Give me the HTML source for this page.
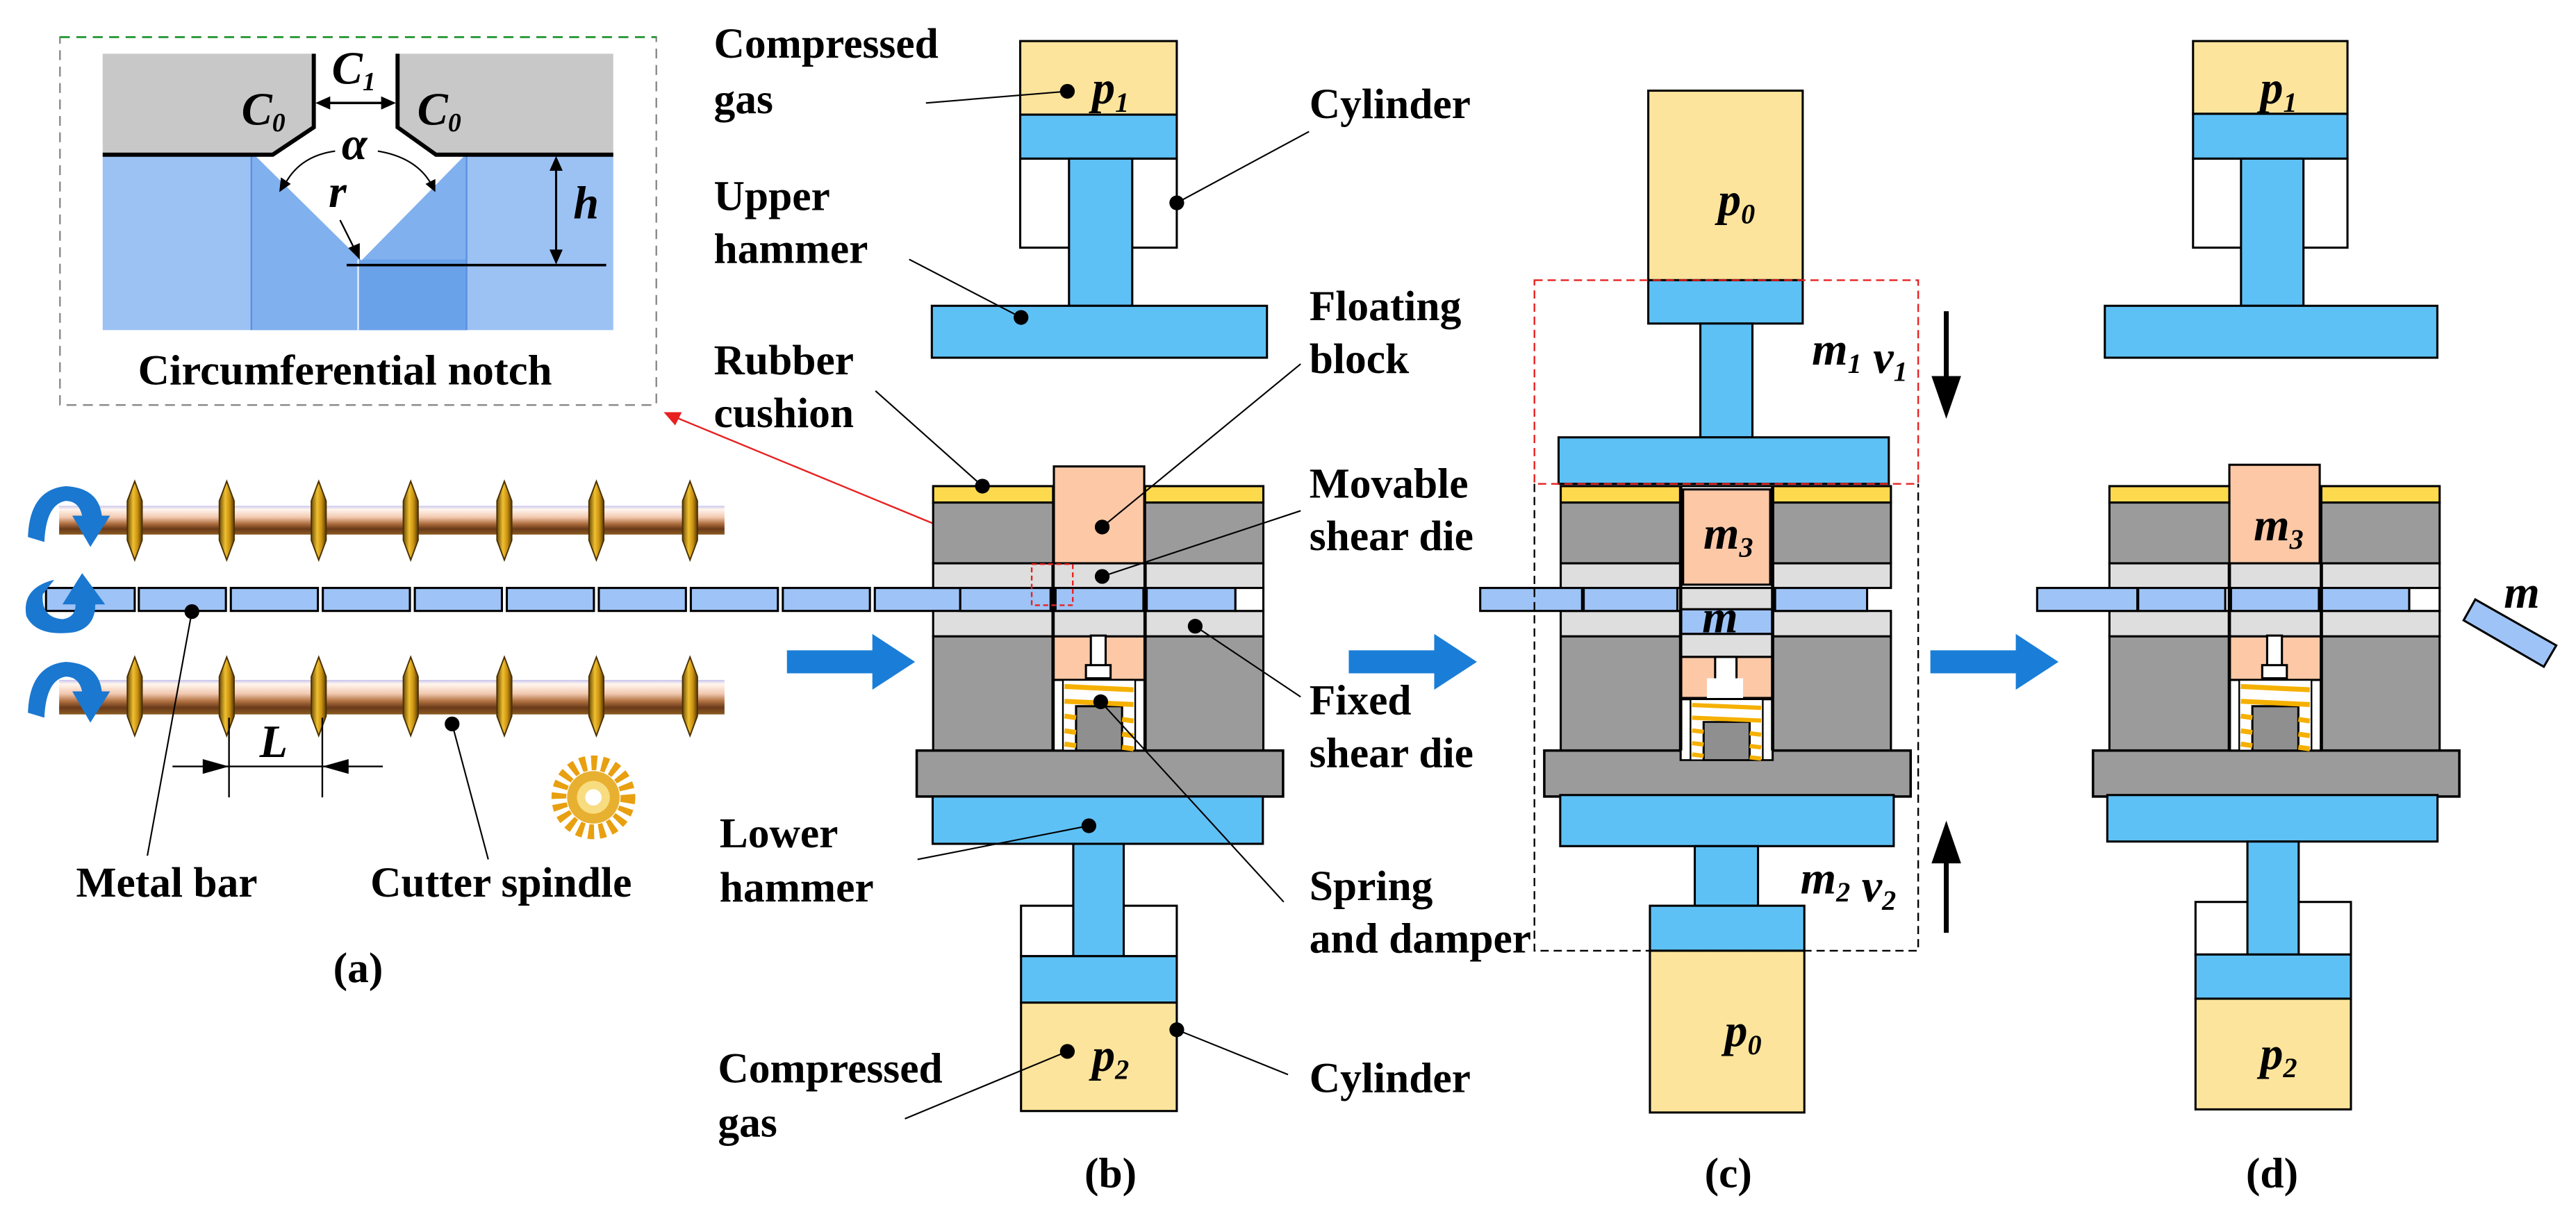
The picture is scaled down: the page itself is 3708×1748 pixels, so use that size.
<!DOCTYPE html>
<html><head><meta charset="utf-8"><style>
html,body{margin:0;padding:0;background:#fff;}
svg{display:block;}
text{font-family:"Liberation Serif",serif;font-weight:bold;fill:#000;}
.l{font-size:26px;}
.i{font-style:italic;font-size:28px;}
.s{stroke:#000;stroke-width:1.3;}
</style></head><body>
<svg width="3708" height="1748" viewBox="0 0 1568 739.2" preserveAspectRatio="none" xmlns="http://www.w3.org/2000/svg">
<defs>
<linearGradient id="sp" x1="0" y1="0" x2="0" y2="1">
<stop offset="0" stop-color="#c8c4ee"/><stop offset="0.12" stop-color="#fff6ee"/><stop offset="0.4" stop-color="#f2c8b0"/><stop offset="0.62" stop-color="#b07040"/><stop offset="0.8" stop-color="#6a3a1a"/><stop offset="1" stop-color="#8a5a20"/>
</linearGradient>
<linearGradient id="gd" x1="0" y1="0" x2="1" y2="0">
<stop offset="0" stop-color="#6a4a08"/><stop offset="0.4" stop-color="#f0c030"/><stop offset="0.7" stop-color="#c89010"/><stop offset="1" stop-color="#5a3a08"/>
</linearGradient>
<g id="disc"><path d="M0,-24 L4.5,-12 L4.5,12 L0,24 L-4.5,12 L-4.5,-12 Z" fill="url(#gd)" stroke="#4a3000" stroke-width="0.8"/></g>
<g id="die">
<rect x="0" y="0" width="73" height="10" fill="#fdd94e" class="s"/>
<rect x="129" y="0" width="72" height="10" fill="#fdd94e" class="s"/>
<rect x="0" y="10" width="73" height="37" fill="#9b9b9b" class="s"/>
<rect x="129" y="10" width="72" height="37" fill="#9b9b9b" class="s"/>
<rect x="0" y="47" width="73" height="15" fill="#dedede" class="s"/>
<rect x="129" y="47" width="72" height="15" fill="#dedede" class="s"/>
<rect x="0" y="76" width="73" height="15.5" fill="#dedede" class="s"/>
<rect x="129" y="76" width="72" height="15.5" fill="#dedede" class="s"/>
<rect x="0" y="91.5" width="73" height="69.5" fill="#9b9b9b" class="s"/>
<rect x="129" y="91.5" width="72" height="69.5" fill="#9b9b9b" class="s"/>
<rect x="-10" y="161" width="223" height="28" fill="#9b9b9b" stroke="#000" stroke-width="1.5"/>
</g>
<g id="spring">
<rect x="73" y="118" width="56" height="43" fill="#fff" class="s"/>
<rect x="79" y="118" width="44" height="43" fill="#fff" stroke="#000" stroke-width="1"/>
<rect x="87" y="134" width="28" height="27" fill="#8f8f8f" class="s"/>
<g stroke="#f5b000" stroke-width="3">
<line x1="80" y1="122" x2="122" y2="124"/><line x1="80" y1="131" x2="122" y2="133"/>
<line x1="80" y1="140" x2="87" y2="141"/><line x1="115" y1="142" x2="122" y2="143"/>
<line x1="80" y1="149" x2="87" y2="150"/><line x1="115" y1="151" x2="122" y2="152"/>
<line x1="80" y1="157" x2="87" y2="158"/><line x1="115" y1="159" x2="122" y2="160"/>
</g>
</g>
<g id="bluearrow"><path d="M0,6 H52 V-4 L78,13 L52,30 V20 H0 Z" fill="#1a7ed8"/></g>
</defs>

<!-- ===== Panel (a) inset ===== -->
<rect x="36.5" y="22.6" width="363" height="224" fill="none" stroke="#888" stroke-width="1" stroke-dasharray="6,4"/>
<line x1="36.5" y1="22.6" x2="399.5" y2="22.6" stroke="#2a9a3a" stroke-width="1.2" stroke-dasharray="6,4"/>
<rect x="62.5" y="94" width="310.8" height="107" fill="#9cc2f4"/>
<rect x="153" y="94" width="131" height="107" fill="#80b0ee"/>
<rect x="218" y="158" width="66" height="43" fill="#6aa2ea"/>
<line x1="153" y1="94" x2="153" y2="201" stroke="#5a90e0" stroke-width="1"/>
<line x1="284" y1="94" x2="284" y2="201" stroke="#5a90e0" stroke-width="1"/>
<line x1="218" y1="158" x2="218" y2="201" stroke="#e8f0ff" stroke-width="1"/>
<path d="M62.5,32.7 H191 V77.5 L166,94.2 H62.5 Z" fill="#c8c8c8"/>
<path d="M373.3,32.7 H242 V77.5 L265.4,94.2 H373.3 Z" fill="#c8c8c8"/>
<path d="M154,93.5 L220,158.6 L284,93.5 Z" fill="#fff"/>
<path d="M62.5,94.2 H166 L191,77.5 V32.7" fill="none" stroke="#000" stroke-width="2.5"/>
<path d="M373.3,94.2 H265.4 L242,77.5 V32.7" fill="none" stroke="#000" stroke-width="2.5"/>
<line x1="211" y1="161.4" x2="369" y2="161.4" stroke="#000" stroke-width="1.5"/>
<line x1="338.5" y1="100" x2="338.5" y2="156" stroke="#000" stroke-width="1.3"/>
<path d="M338.5,95 l-4,9 h8 z M338.5,161 l-4,-9 h8 z" fill="#000"/>
<line x1="197" y1="62.7" x2="236" y2="62.7" stroke="#000" stroke-width="1.5"/>
<path d="M192,62.7 l9,-4 v8 z M241,62.7 l-9,-4 v8 z" fill="#000"/>
<path d="M204,92 Q182,95 173,113" fill="none" stroke="#000" stroke-width="0.9"/>
<path d="M170,117 l1,-9 l6,4 z" fill="#000"/>
<path d="M230,92 Q254,96 263,113" fill="none" stroke="#000" stroke-width="0.9"/>
<path d="M265,117 l-6,-5 l6,-3 z" fill="#000"/>
<line x1="207" y1="134" x2="216" y2="152" stroke="#000" stroke-width="1"/>
<path d="M219,158 l-7,-7 l7,-3 z" fill="#000"/>
<text class="i" x="147" y="76" font-size="24">C<tspan font-size="16" dy="4">0</tspan></text>
<text class="i" x="254" y="76" font-size="24">C<tspan font-size="16" dy="4">0</tspan></text>
<text class="i" x="202" y="51" font-size="24">C<tspan font-size="16" dy="4">1</tspan></text>
<text class="i" x="208" y="97" font-size="24">α</text>
<text class="i" x="200" y="126" font-size="24">r</text>
<text class="i" x="349" y="133" font-size="24">h</text>
<text class="l" x="210" y="234" text-anchor="middle" textLength="252" lengthAdjust="spacingAndGlyphs">Circumferential notch</text>

<line x1="628" y1="343.5" x2="411" y2="254" stroke="#e82020" stroke-width="1"/>
<path d="M404,251 l11,0 l-4,8 z" fill="#e82020"/>

<rect x="36" y="308" width="405" height="17.5" fill="url(#sp)"/>
<rect x="36" y="414" width="405" height="21" fill="url(#sp)"/>
<g>
<use href="#disc" x="82" y="317"/><use href="#disc" x="138" y="317"/><use href="#disc" x="194" y="317"/><use href="#disc" x="250" y="317"/><use href="#disc" x="307" y="317"/><use href="#disc" x="363" y="317"/><use href="#disc" x="420" y="317"/>
<use href="#disc" x="82" y="424"/><use href="#disc" x="138" y="424"/><use href="#disc" x="194" y="424"/><use href="#disc" x="250" y="424"/><use href="#disc" x="307" y="424"/><use href="#disc" x="363" y="424"/><use href="#disc" x="420" y="424"/>
</g>
<g>
<rect x="28" y="358" width="54" height="14" fill="#9ec3f7" class="s"/>
<rect x="84.5" y="358" width="53" height="14" fill="#9ec3f7" class="s"/>
<rect x="140.5" y="358" width="53" height="14" fill="#9ec3f7" class="s"/>
<rect x="196.5" y="358" width="53" height="14" fill="#9ec3f7" class="s"/>
<rect x="252.5" y="358" width="53" height="14" fill="#9ec3f7" class="s"/>
<rect x="308.5" y="358" width="53" height="14" fill="#9ec3f7" class="s"/>
<rect x="364.5" y="358" width="53" height="14" fill="#9ec3f7" class="s"/>
<rect x="420.5" y="358" width="53" height="14" fill="#9ec3f7" class="s"/>
<rect x="476.5" y="358" width="53" height="14" fill="#9ec3f7" class="s"/>
<rect x="532.5" y="358" width="52" height="14" fill="#9ec3f7" class="s"/>
</g>
<g fill="#1a78d0">
<path d="M17,327 Q18,298 40,296 Q60,297 62,314 L67,314 L55,333 L44,314 L50,314 Q48,305 40,305 Q28,307 27,330 Z"/>
<path d="M33,353 Q13,358 16,375 Q22,388 45,385 Q58,382 58,368 L64,368 L50,349 L38,368 L46,368 Q46,376 38,377 Q25,376 26,362 Z"/>
<path d="M17,434 Q18,405 40,403 Q60,404 62,421 L67,421 L55,440 L44,421 L50,421 Q48,412 40,412 Q28,414 27,437 Z"/>
</g>
<line x1="139.4" y1="437" x2="139.4" y2="485.5" stroke="#000" stroke-width="1"/>
<line x1="196.2" y1="437" x2="196.2" y2="485.5" stroke="#000" stroke-width="1"/>
<line x1="105" y1="466.7" x2="233" y2="466.7" stroke="#000" stroke-width="1"/>
<path d="M139.4,466.7 l-16,-4.5 v9 z M196.2,466.7 l16,-4.5 v9 z" fill="#000"/>
<text class="i" x="158" y="461" font-size="26">L</text>
<circle cx="361.2" cy="485.5" r="21" fill="none" stroke="#e8a010" stroke-width="9" stroke-dasharray="3.5,3"/>
<circle cx="361.2" cy="485.5" r="16" fill="#e8b030"/>
<circle cx="361.2" cy="485.5" r="10" fill="#f8dc80"/>
<circle cx="361.2" cy="485.5" r="5" fill="#fff"/>
<line x1="116.8" y1="372.4" x2="89.7" y2="521" stroke="#000" stroke-width="0.9"/>
<circle cx="116.8" cy="372.4" r="4.5" fill="#000"/>
<line x1="275.2" y1="440.8" x2="297.2" y2="523.3" stroke="#000" stroke-width="0.9"/>
<circle cx="275.2" cy="440.8" r="4.5" fill="#000"/>
<text class="l" x="101.5" y="546" text-anchor="middle">Metal bar</text>
<text class="l" x="305" y="546" text-anchor="middle">Cutter spindle</text>
<text class="l" x="218" y="598" text-anchor="middle">(a)</text>

<use href="#bluearrow" x="479" y="390"/>

<!-- ===== Panel (b) ===== -->
<rect x="621" y="25" width="95.3" height="44.8" fill="#fde49c" class="s"/>
<rect x="621" y="69.8" width="95.3" height="26.8" fill="#5ec1f6" class="s"/>
<rect x="621" y="96.6" width="95.3" height="54.2" fill="#fff" class="s"/>
<rect x="650.7" y="96.6" width="38.5" height="89.6" fill="#5ec1f6" class="s"/>
<rect x="567.2" y="186.2" width="204" height="31.6" fill="#5ec1f6" class="s"/>
<text class="i" x="676" y="63" text-anchor="middle">p<tspan font-size="17" dy="5">1</tspan></text>

<g transform="translate(568,296)">
<rect x="73.5" y="-12" width="55" height="59" fill="#fcc8a6" class="s"/>
<use href="#die"/>
<rect x="73" y="47" width="56" height="15" fill="#dedede" class="s"/>
<rect x="73" y="76" width="56" height="15.5" fill="#dedede" class="s"/>
<rect x="73" y="91.5" width="56" height="26.5" fill="#fcc8a6" class="s"/>
<rect x="96" y="91" width="9" height="22" fill="#fff" class="s"/>
<rect x="93" y="109" width="15" height="8" fill="#fff" class="s"/>
<use href="#spring"/>
<rect x="16.5" y="62" width="55" height="14" fill="#9ec3f7" class="s"/>
<rect x="74.5" y="62" width="53.5" height="14" fill="#9ec3f7" class="s"/>
<rect x="130" y="62" width="54" height="14" fill="#9ec3f7" class="s"/>
<rect x="184" y="62" width="17" height="14" fill="#fff" class="s"/>
<line x1="73" y1="47" x2="73" y2="161" stroke="#000" stroke-width="2"/>
<line x1="129" y1="47" x2="129" y2="161" stroke="#000" stroke-width="2"/>
</g>
<rect x="628" y="343.5" width="25" height="25" fill="none" stroke="#e82020" stroke-width="1" stroke-dasharray="3,2"/>
<rect x="567.7" y="485" width="201" height="28.8" fill="#5ec1f6" class="s"/>
<rect x="621.5" y="551.5" width="94.8" height="30.7" fill="#fff" class="s"/>
<rect x="653.3" y="513.8" width="30.7" height="68.4" fill="#5ec1f6" class="s"/>
<rect x="621.5" y="582.2" width="94.8" height="28.3" fill="#5ec1f6" class="s"/>
<rect x="621.5" y="610.5" width="94.8" height="66" fill="#fde49c" class="s"/>
<text class="i" x="676" y="652" text-anchor="middle">p<tspan font-size="17" dy="5">2</tspan></text>

<g stroke="#000" stroke-width="0.9">
<line x1="563.6" y1="62.7" x2="649.7" y2="55.6"/>
<line x1="716.3" y1="123.5" x2="796.8" y2="80.1"/>
<line x1="553.4" y1="157.9" x2="621.5" y2="193.3"/>
<line x1="532.9" y1="238" x2="598" y2="296"/>
<line x1="670.9" y1="320.9" x2="791.7" y2="221.6"/>
<line x1="670.9" y1="351" x2="791.7" y2="311"/>
<line x1="727.5" y1="381.3" x2="791.7" y2="424.3"/>
<line x1="670" y1="427.3" x2="781.4" y2="549.2"/>
<line x1="558.5" y1="523.3" x2="662.8" y2="502.8"/>
<line x1="550.8" y1="681.2" x2="649.7" y2="640.2"/>
<line x1="716.3" y1="627" x2="784" y2="654.3"/>
</g>
<g fill="#000">
<circle cx="649.7" cy="55.6" r="4.5"/><circle cx="716.3" cy="123.5" r="4.5"/><circle cx="621.5" cy="193.3" r="4.5"/>
<circle cx="598" cy="296" r="4.5"/><circle cx="670.9" cy="320.9" r="4.5"/><circle cx="670.9" cy="351" r="4.5"/>
<circle cx="727.5" cy="381.3" r="4.5"/><circle cx="670" cy="427.3" r="4.5"/><circle cx="662.8" cy="502.8" r="4.5"/>
<circle cx="649.7" cy="640.2" r="4.5"/><circle cx="716.3" cy="627" r="4.5"/>
</g>
<text class="l" x="434.5" y="35">Compressed</text>
<text class="l" x="434.5" y="69">gas</text>
<text class="l" x="434.5" y="128">Upper</text>
<text class="l" x="434.5" y="160">hammer</text>
<text class="l" x="434.5" y="228">Rubber</text>
<text class="l" x="434.5" y="260">cushion</text>
<text class="l" x="438" y="516">Lower</text>
<text class="l" x="438" y="549">hammer</text>
<text class="l" x="437" y="659">Compressed</text>
<text class="l" x="437" y="692">gas</text>
<text class="l" x="797" y="72">Cylinder</text>
<text class="l" x="797" y="195">Floating</text>
<text class="l" x="797" y="227">block</text>
<text class="l" x="797" y="303">Movable</text>
<text class="l" x="797" y="335">shear die</text>
<text class="l" x="797" y="435">Fixed</text>
<text class="l" x="797" y="467">shear die</text>
<text class="l" x="797" y="548">Spring</text>
<text class="l" x="797" y="580">and damper</text>
<text class="l" x="797" y="665">Cylinder</text>
<text class="l" x="676" y="723" text-anchor="middle">(b)</text>

<use href="#bluearrow" x="821" y="390"/>

<!-- ===== Panel (c) ===== -->
<rect x="1003.3" y="55.2" width="94" height="115.4" fill="#fde49c" class="s"/>
<rect x="1003.3" y="170.6" width="94" height="26.4" fill="#5ec1f6" class="s"/>
<rect x="1035" y="197" width="31.7" height="69.3" fill="#5ec1f6" class="s"/>
<rect x="948.7" y="266.3" width="201" height="28.3" fill="#5ec1f6" class="s"/>
<text class="i" x="1057" y="131" text-anchor="middle">p<tspan font-size="17" dy="5">0</tspan></text>
<g transform="translate(950,296)">
<use href="#die"/>
<rect x="73" y="0" width="56" height="62" fill="#fff" class="s"/>
<rect x="74.5" y="2" width="53" height="58" fill="#fcc8a6" class="s"/>
<rect x="73" y="62" width="56" height="13" fill="#dedede" class="s"/>
<rect x="73" y="75" width="56" height="15" fill="#9ec3f7" class="s"/>
<rect x="73" y="90" width="56" height="14" fill="#dedede" class="s"/>
<rect x="73" y="104" width="56" height="25" fill="#fcc8a6" class="s"/>
<rect x="94" y="104" width="13" height="18" fill="#fff" class="s"/>
<rect x="89" y="117" width="22" height="12" fill="#fff"/>
<use href="#spring" transform="translate(0,6) scale(1,0.86) translate(0,26)"/>
<rect x="-49" y="62" width="62" height="14" fill="#9ec3f7" class="s"/>
<rect x="14" y="62" width="57" height="14" fill="#9ec3f7" class="s"/>
<rect x="130.5" y="62" width="56" height="14" fill="#9ec3f7" class="s"/>
<line x1="73" y1="0" x2="73" y2="161" stroke="#000" stroke-width="2"/>
<line x1="129" y1="0" x2="129" y2="161" stroke="#000" stroke-width="2"/>
</g>
<text class="i" x="1052" y="334" text-anchor="middle">m<tspan font-size="17" dy="5">3</tspan></text>
<text class="i" x="1047" y="385" text-anchor="middle">m</text>
<rect x="949.7" y="484.1" width="203" height="31.1" fill="#5ec1f6" class="s"/>
<rect x="1031.6" y="515.2" width="38.5" height="36.3" fill="#5ec1f6" class="s"/>
<rect x="1004.3" y="551.5" width="94" height="27.4" fill="#5ec1f6" class="s"/>
<rect x="1004.3" y="578.9" width="94" height="98.5" fill="#fde49c" class="s"/>
<text class="i" x="1061" y="637" text-anchor="middle">p<tspan font-size="17" dy="5">0</tspan></text>
<rect x="934" y="170.6" width="233.6" height="124" fill="none" stroke="#e82020" stroke-width="1" stroke-dasharray="5,3"/>
<path d="M934,294.6 V578.9 H1167.6 V294.6" fill="none" stroke="#000" stroke-width="1" stroke-dasharray="5,3"/>
<text class="i" x="1132" y="222" text-anchor="middle">m<tspan font-size="17" dy="5">1</tspan> v<tspan font-size="17" dy="5">1</tspan></text>
<text class="i" x="1125" y="544" text-anchor="middle">m<tspan font-size="17" dy="5">2</tspan> v<tspan font-size="17" dy="5">2</tspan></text>
<line x1="1184.7" y1="189.5" x2="1184.7" y2="232" stroke="#000" stroke-width="3"/>
<path d="M1184.7,255 l-9,-26 h18 z" fill="#000"/>
<line x1="1184.7" y1="568" x2="1184.7" y2="523" stroke="#000" stroke-width="3"/>
<path d="M1184.7,499.7 l-9,26 h18 z" fill="#000"/>
<text class="l" x="1052" y="723" text-anchor="middle">(c)</text>

<use href="#bluearrow" x="1175" y="390"/>

<!-- ===== Panel (d) ===== -->
<rect x="1334.9" y="25" width="94" height="44.3" fill="#fde49c" class="s"/>
<rect x="1334.9" y="69.3" width="94" height="27.3" fill="#5ec1f6" class="s"/>
<rect x="1334.9" y="96.6" width="94" height="54.2" fill="#fff" class="s"/>
<rect x="1364.1" y="96.6" width="38" height="89.6" fill="#5ec1f6" class="s"/>
<rect x="1281.2" y="186.2" width="202.4" height="31.6" fill="#5ec1f6" class="s"/>
<text class="i" x="1387" y="63" text-anchor="middle">p<tspan font-size="17" dy="5">1</tspan></text>
<g transform="translate(1284,296)">
<rect x="73" y="-13" width="55" height="60" fill="#fcc8a6" class="s"/>
<use href="#die"/>
<rect x="73" y="47" width="56" height="15" fill="#dedede" class="s"/>
<rect x="73" y="76" width="56" height="15.5" fill="#dedede" class="s"/>
<rect x="73" y="91.5" width="56" height="26.5" fill="#fcc8a6" class="s"/>
<rect x="96" y="91" width="9" height="22" fill="#fff" class="s"/>
<rect x="93" y="109" width="15" height="8" fill="#fff" class="s"/>
<use href="#spring"/>
<rect x="-44" y="62" width="61" height="14" fill="#9ec3f7" class="s"/>
<rect x="17.5" y="62" width="53" height="14" fill="#9ec3f7" class="s"/>
<rect x="74" y="62" width="53.5" height="14" fill="#9ec3f7" class="s"/>
<rect x="129" y="62" width="53.5" height="14" fill="#9ec3f7" class="s"/>
<rect x="182.5" y="62" width="18.5" height="14" fill="#fff" class="s"/>
<line x1="73" y1="47" x2="73" y2="161" stroke="#000" stroke-width="2"/>
<line x1="129" y1="47" x2="129" y2="161" stroke="#000" stroke-width="2"/>
</g>
<text class="i" x="1387" y="329" text-anchor="middle">m<tspan font-size="17" dy="5">3</tspan></text>
<rect x="1282.7" y="484.1" width="201" height="28.3" fill="#5ec1f6" class="s"/>
<rect x="1336.4" y="549.2" width="94.6" height="32" fill="#fff" class="s"/>
<rect x="1368" y="512.4" width="31.2" height="68.8" fill="#5ec1f6" class="s"/>
<rect x="1336.4" y="581.2" width="94.6" height="26.9" fill="#5ec1f6" class="s"/>
<rect x="1336.4" y="608.1" width="94.6" height="67.4" fill="#fde49c" class="s"/>
<text class="i" x="1387" y="651" text-anchor="middle">p<tspan font-size="17" dy="5">2</tspan></text>
<polygon points="1506.7,365 1556,393 1548.4,406 1499.6,377.7" fill="#9ec3f7" class="s"/>
<text class="i" x="1535" y="370" text-anchor="middle">m</text>
<text class="l" x="1383" y="723" text-anchor="middle">(d)</text>
</svg>
</body></html>
